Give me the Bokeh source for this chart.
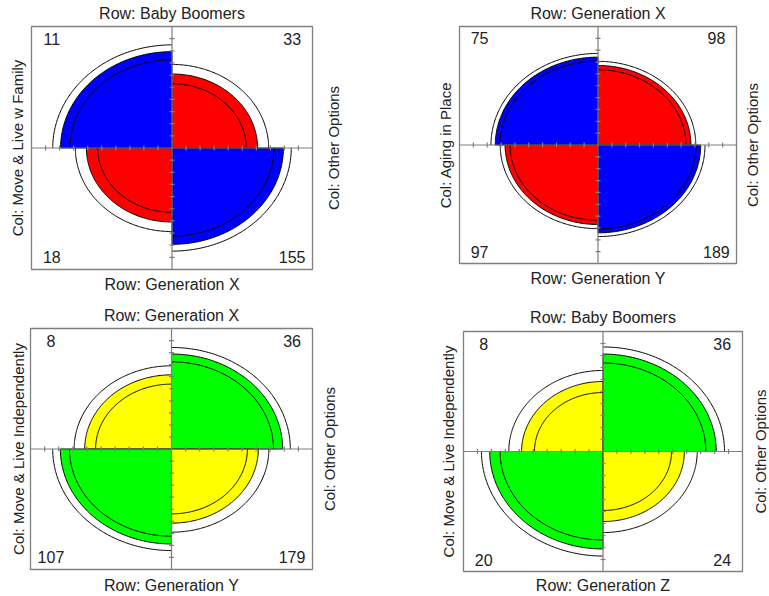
import numpy as np
from bokeh.plotting import figure
from bokeh.models import Range1d
from bokeh.embed import file_html
from bokeh.resources import INLINE
from bokeh.core.properties import value

# ---------------- data ----------------
row_top = ["Baby Boomers", "Generation X", "Generation X", "Baby Boomers"]
row_bottom = ["Generation X", "Generation Y", "Generation Y", "Generation Z"]
col_left = ["Move & Live w Family", "Aging in Place",
            "Move & Live Independently", "Move & Live Independently"]
col_right = ["Other Options", "Other Options", "Other Options", "Other Options"]
n_top_left = [11, 75, 8, 8]
n_top_right = [33, 98, 36, 36]
n_bottom_left = [18, 97, 107, 20]
n_bottom_right = [155, 189, 179, 24]
conf_level = 0.95

# ---------------- styles / layout ----------------
color_small = ["#ff0000", "#ff0000", "#ffff00", "#ffff00"]
color_large = ["#0000ff", "#0000ff", "#00ff00", "#00ff00"]
FONT = "Liberation Sans"
TXT = "#222222"
GRAY = "#7f7f7f"
W, H = 769, 596
# panel boxes in pixels: left, right, top, bottom
boxes = [(31, 312, 26, 269), (459, 736, 26, 263),
         (30, 312, 328, 569), (463, 742, 331, 571)]
# label anchors in pixels: top-y, bottom-y, left-x, right-x
label_pos = [(13, 284, 17, 333), (13, 278, 445, 752),
             (315, 585, 17.5, 329), (317, 585, 448, 760)]
COUNT_X = 0.855
COUNT_Y = 0.9

p = figure(width=W, height=H, output_backend="svg", toolbar_location=None,
           x_range=Range1d(0, W), y_range=Range1d(0, H),
           min_border=0, outline_line_color=None)
p.axis.visible = False
p.grid.visible = False


def wy(y):
    return H - y


z = 1.959963984540054  # normal quantile for conf_level = 0.95

patch_xs, patch_ys, patch_col = [], [], []
ring_xs, ring_ys = [], []
seg = {"x0": [], "y0": [], "x1": [], "y1": []}
box_l, box_r, box_t, box_b = [], [], [], []
tx, ty, tt, tang = [], [], [], []
cx_, cy_, ct = [], [], []

quads = [(90, 180), (0, 90), (180, 270), (270, 360)]  # TL, TR, BL, BR

for i in range(4):
    l, r, t, b = boxes[i]
    cx = (l + r) / 2.0
    cy = wy((t + b) / 2.0)
    hx = (r - l) / 2.0
    hy = (b - t) / 2.0
    cells = np.array([n_top_left[i], n_top_right[i], n_bottom_left[i], n_bottom_right[i]], float)
    c = cells + 0.5 if np.any(cells == 0) else cells
    odds = c[0] * c[3] / (c[1] * c[2])
    se = np.sqrt(np.sum(1.0 / c))
    lo = odds * np.exp(-z * se)
    hi = odds * np.exp(z * se)

    def ustd(th):
        s = np.sqrt(th)
        return s / (1 + s)

    u, ulo, uhi = ustd(odds), ustd(lo), ustd(hi)
    diag = [True, False, False, True]
    for k, (a0, a1) in enumerate(quads):
        ang = np.radians(np.linspace(a0, a1, 120))
        val = u if diag[k] else 1 - u
        rad = np.sqrt(val)
        xs = np.concatenate([[0], np.cos(ang) * rad, [0]])
        ys = np.concatenate([[0], np.sin(ang) * rad, [0]])
        patch_xs.append(list(cx + xs * hx))
        patch_ys.append(list(cy + ys * hy))
        big = (odds > 1) == diag[k]
        patch_col.append(color_large[i] if big else color_small[i])
        rings = [ulo, uhi] if diag[k] else [1 - uhi, 1 - ulo]
        for rv in rings:
            rr = np.sqrt(rv)
            ring_xs.append(list(cx + np.cos(ang) * rr * hx))
            ring_ys.append(list(cy + np.sin(ang) * rr * hy))
    # axes through the centre
    seg["x0"] += [l, cx]; seg["x1"] += [r, cx]
    seg["y0"] += [cy, wy(t)]; seg["y1"] += [cy, wy(b)]
    for j in np.arange(-9, 10):
        if j == 0:
            continue
        seg["x0"] += [cx + j * 0.1 * hx, cx - 2.5]
        seg["x1"] += [cx + j * 0.1 * hx, cx + 2.5]
        seg["y0"] += [cy - 2.5, cy + j * 0.1 * hy]
        seg["y1"] += [cy + 2.5, cy + j * 0.1 * hy]
    box_l.append(l); box_r.append(r); box_t.append(wy(t)); box_b.append(wy(b))
    # labels
    ly_t, ly_b, lx_l, lx_r = label_pos[i]
    tx += [cx, cx, lx_l, lx_r]
    ty += [wy(ly_t), wy(ly_b), cy, cy]
    tt += ["Row: " + row_top[i], "Row: " + row_bottom[i],
           "Col: " + col_left[i], "Col: " + col_right[i]]
    tang += [0, 0, np.pi / 2, np.pi / 2]
    # counts
    cx_ += [cx - COUNT_X * hx, cx + COUNT_X * hx, cx - COUNT_X * hx, cx + COUNT_X * hx]
    cy_ += [cy + COUNT_Y * hy, cy + COUNT_Y * hy, cy - COUNT_Y * hy, cy - COUNT_Y * hy]
    ct += [str(n_top_left[i]), str(n_top_right[i]), str(n_bottom_left[i]), str(n_bottom_right[i])]

p.patches(patch_xs, patch_ys, fill_color=patch_col, line_color="black", line_width=1)
p.multi_line(ring_xs, ring_ys, line_color="black", line_width=1)
p.segment(x0=seg["x0"], y0=seg["y0"], x1=seg["x1"], y1=seg["y1"], line_color=GRAY, line_width=1.2)
p.quad(left=box_l, right=box_r, top=box_t, bottom=box_b, fill_color=None, line_color=GRAY, line_width=1.3)

hor = [k for k in range(len(tt)) if tang[k] == 0]
ver = [k for k in range(len(tt)) if tang[k] != 0]
p.text(x=[tx[k] for k in hor], y=[ty[k] for k in hor], text=[tt[k] for k in hor],
       text_font=value(FONT), text_font_size="16px", text_color=TXT,
       text_align="center", text_baseline="middle")
p.text(x=[tx[k] for k in ver], y=[ty[k] for k in ver], text=[tt[k] for k in ver],
       angle=np.pi / 2, text_font=value(FONT), text_font_size="15px", text_color=TXT,
       text_align="center", text_baseline="middle")
p.text(x=cx_, y=cy_, text=ct, text_font=value(FONT), text_font_size="16px", text_color=TXT,
       text_align="center", text_baseline="middle")

open("out.html", "w").write(file_html(p, INLINE))
